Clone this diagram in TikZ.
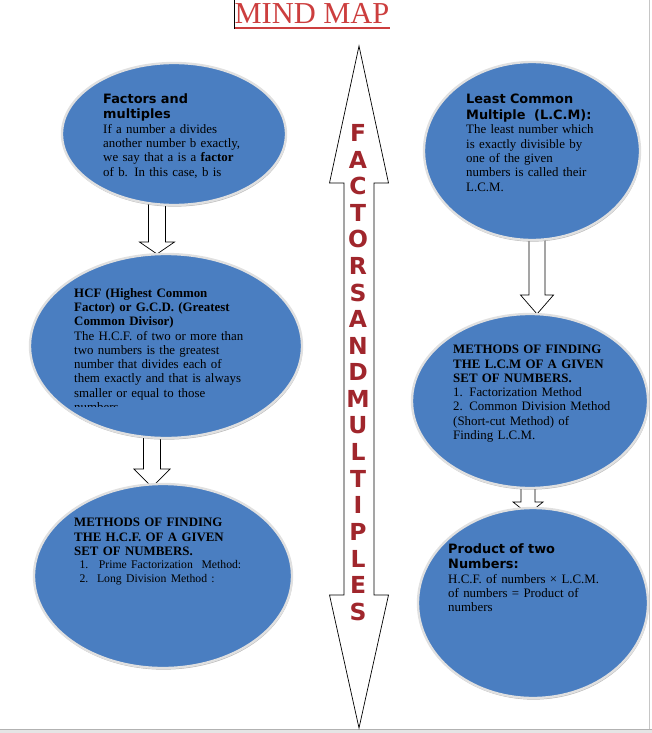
\documentclass[tikz,border=0pt]{standalone}
\usepackage{fontspec}
\setmainfont{Liberation Serif}
\newfontfamily\headfont{DejaVu Sans}
\usetikzlibrary{calc,shadows,shapes.geometric}

\definecolor{bubbleblue}{RGB}{74,126,193}
\definecolor{titlered}{RGB}{204,62,62}
\definecolor{letterred}{RGB}{160,38,44}

\tikzset{
  bubble/.style={ellipse, fill=bubbleblue, draw=white!88!black, line width=2pt, inner sep=0pt,
    drop shadow={shadow xshift=0.5pt, shadow yshift=-1.4pt, opacity=0.45, fill=black!60}},
  bubbletext/.style={anchor=north west, inner sep=0pt, text width=6cm, align=left,
    font=\fontsize{11}{12.2}\selectfont},
  arrowbox/.style={draw=black, fill=white, line width=0.6pt, line join=miter},
  spine/.style={font=\headfont\bfseries\fontsize{20}{20}\selectfont, text=letterred, inner sep=0pt}
}
\newcommand\headline[1]{{\headfont\bfseries\fontsize{11}{13.5}\selectfont #1\par}}
\newcommand\blockarrow[5]{%
  \draw[arrowbox] ($(#1)+(-#3,0)$) -- ($(#1)+(#3,0)$) -- ($(#2)+(#3,-#5)$) -- ($(#2)+(#4,-#5)$)
    -- (#2) -- ($(#2)+(-#4,-#5)$) -- ($(#2)+(-#3,-#5)$) -- cycle;}

\begin{document}
\begin{tikzpicture}[x=0.03cm, y=-0.03cm]
    \useasboundingbox (0,0) rectangle (652,733);
    % page edges
    \fill[gray!20] (0,729) rectangle (652,733);
    \draw[gray!60, line width=0.6pt] (0,729) -- (652,729);
    \draw[gray!45, line width=0.6pt] (649,0) -- (649,729);

    % block arrows
    \coordinate (a1top) at (157,202); \coordinate (a1tip) at (157,254);
    \coordinate (a2top) at (152,434); \coordinate (a2tip) at (152,487);
    \coordinate (a3top) at (537,238); \coordinate (a3tip) at (537,314);
    \coordinate (a4top) at (528,486); \coordinate (a4tip) at (528,514);
    \blockarrow{a1top}{a1tip}{8.5}{17.5}{12}
    \blockarrow{a2top}{a2tip}{8.5}{18}{18}
    \blockarrow{a3top}{a3tip}{8}{16.5}{19}
    \blockarrow{a4top}{a4tip}{7}{15}{12}

    \node[bubble, minimum width=6.72cm, minimum height=4.26cm] (factors) at (174,134) {};
    \node[bubble, minimum width=8.16cm, minimum height=5.52cm] (hcf) at (166,346) {};
    \node[bubble, minimum width=7.74cm, minimum height=5.52cm] (hcfmeth) at (163,576) {};
    \node[bubble, minimum width=6.48cm, minimum height=5.34cm] (lcm) at (532,151) {};
    \node[bubble, minimum width=7.08cm, minimum height=5.22cm] (lcmmeth) at (530,401) {};
    \node[bubble, minimum width=6.90cm, minimum height=5.70cm] (product) at (533,603) {};

    \node[bubbletext] (factorstext) at (103,93) {%
      \headline{Factors and\\ multiples}
      If a number a divides\\ another number b exactly,\\ we say that a is a \textbf{factor}\\ of b. In this case, b is};
    \begin{scope}
      \clip (60,280) rectangle (310,406.5);
      \node[bubbletext] (hcftext) at (74,288) {%
        {\bfseries HCF (Highest Common\\ Factor) or G.C.D. (Greatest\\ Common Divisor)\par}
        The H.C.F. of two or more than\\ two numbers is the greatest\\ number that divides each of\\
        them exactly and that is always\\ smaller or equal to those\\ numbers};
    \end{scope}
    \node[bubbletext] (hcfmethtext) at (74,518) {%
      {\bfseries METHODS OF FINDING\\ THE H.C.F. OF A GIVEN\\ SET OF NUMBERS.\par}
      {\fontsize{10}{11.5}\selectfont
      \hspace*{4.5pt}\makebox[16.5pt][l]{1.}Prime Factorization\ \ Method:\\
      \hspace*{4.5pt}\makebox[15pt][l]{2.}Long Division Method :\par}};
    \node[bubbletext] (lcmtext) at (466,94) {%
      \headline{Least Common\\ Multiple\ \ (L.C.M):}
      The least number which\\ is exactly divisible by\\ one of the given\\ numbers is called their\\ L.C.M.};
    \node[bubbletext] (lcmmethtext) at (453,345) {%
      {\bfseries METHODS OF FINDING\\ THE L.C.M OF A GIVEN\\ SET OF NUMBERS.\par}
      1. Factorization Method\\ 2. Common Division Method\\ (Short-cut Method) of\\ Finding L.C.M.};
    \node[bubbletext] (producttext) at (448,543) {%
      \headline{Product of two\\ Numbers:}
      H.C.F. of numbers × L.C.M.\\ of numbers = Product of\\ numbers};

    % central double arrow
    \coordinate (spinetop) at (359,46);
    \coordinate (spinebot) at (359,728);
    \draw[arrowbox] (spinetop) -- ($(spinetop)+(29.5,137)$) -- ($(spinetop)+(15,137)$)
      -- ($(spinebot)+(15,-133)$) -- ($(spinebot)+(29.5,-133)$) -- (spinebot)
      -- ($(spinebot)+(-29.5,-133)$) -- ($(spinebot)+(-15,-133)$)
      -- ($(spinetop)+(-15,137)$) -- ($(spinetop)+(-29.5,137)$) -- cycle;
    \foreach \ch [count=\i from 0] in {F,A,C,T,O,R,S,A,N,D,M,U,L,T,I,P,L,E,S}
      \node[spine] (l\i) at (358,133+26.6*\i) {\ch};

    \node[font=\fontsize{26}{26}\selectfont, text=titlered, anchor=base, inner sep=0pt] (title) at (312,24) {MIND MAP};
    \draw[titlered, line width=1.5pt] ($(title.base west)+(0,4)$) -- ($(title.base east)+(0,4)$);
    \draw[black, line width=0.6pt] (234,0) -- (234,29);
\end{tikzpicture}
\end{document}
